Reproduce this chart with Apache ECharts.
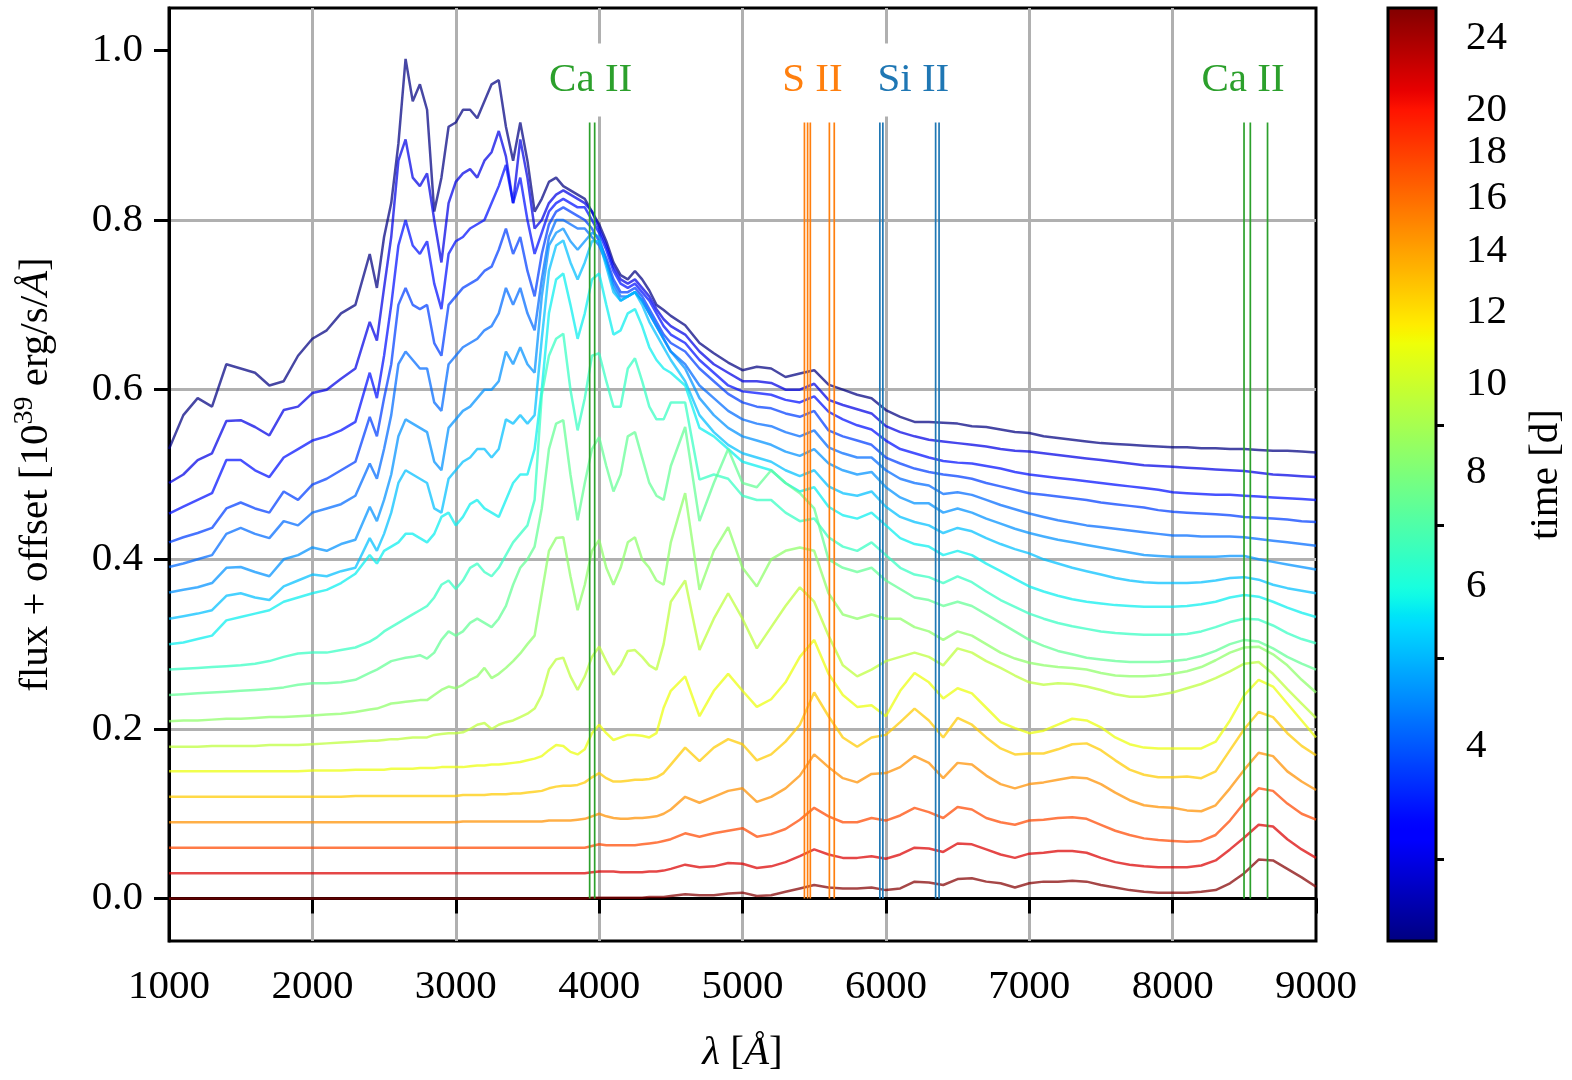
<!DOCTYPE html>
<html><head><meta charset="utf-8">
<script src="https://cdn.jsdelivr.net/npm/echarts@6/dist/echarts.min.js"></script>
<style>html,body{margin:0;padding:0;background:#fff}#chart{width:1572px;height:1080px}</style>
</head><body><div id="chart"></div>
<script>
// ---------------- DATA ----------------
const wavelength = [
1000,1100,1200,1300,1400,1500,1600,1700,1800,1900,2000,2100,2200,2300,2400,
2450,2500,2550,2600,2650,2700,2750,2800,2850,2900,
2950,3000,3050,3100,3150,3200,3250,3300,3350,3400,
3450,3500,3550,3600,3650,3700,3750,3800,3850,3900,
3950,4000,4050,4100,4150,4200,4250,4300,4350,4400,
4450,4500,
4600,4700,4800,4900,5000,5100,5200,5300,5400,5500,
5600,5700,5800,5900,6000,6100,6200,6300,6400,6500,
6600,6700,6800,6900,7000,7100,7200,7300,7400,7500,
7600,7700,7800,7900,8000,8100,8200,8300,8400,8500,
8600,8700,8800,8900,9000];

// epoch of each spectrum [d], earliest first
const times = [2.45,3.0,3.4,3.8,4.2,4.6,5.1,5.7,6.5,7.4,8.4,9.6,11.0,12.6,14.6,17.5,21.5,25.7];

// flux + offset values, one array per epoch
const spec01 = [
0.53,0.57,0.59,0.58,0.63,0.625,0.62,0.605,0.61,0.64,0.66,0.67,0.69,0.70,0.76,
0.72,0.78,0.82,0.89,0.99,0.94,0.96,0.93,0.81,0.85,
0.91,0.915,0.93,0.93,0.92,0.94,0.96,0.965,0.91,0.87,
0.915,0.87,0.81,0.825,0.845,0.85,0.84,0.835,0.83,0.825,
0.81,0.795,0.775,0.75,0.735,0.73,0.74,0.73,0.717,0.70,
0.694,0.687,
0.676,0.655,0.643,0.632,0.623,0.627,0.625,0.615,0.619,0.623,
0.606,0.60,0.594,0.59,0.576,0.568,0.562,0.562,0.561,0.56,
0.557,0.556,0.553,0.55,0.549,0.545,0.543,0.541,0.539,0.537,
0.536,0.535,0.534,0.533,0.532,0.532,0.531,0.531,0.53,0.53,
0.529,0.528,0.528,0.527,0.526];
const spec02 = [
0.49,0.50,0.517,0.525,0.563,0.564,0.556,0.546,0.576,0.58,0.596,0.60,0.613,0.625,0.68,
0.658,0.72,0.78,0.87,0.895,0.85,0.84,0.855,0.80,0.75,
0.82,0.845,0.855,0.86,0.85,0.87,0.88,0.905,0.875,0.82,
0.895,0.85,0.79,0.80,0.82,0.83,0.835,0.83,0.825,0.82,
0.81,0.79,0.77,0.745,0.73,0.725,0.73,0.72,0.71,0.695,
0.683,0.675,
0.665,0.645,0.63,0.62,0.61,0.61,0.608,0.60,0.60,0.607,
0.588,0.582,0.577,0.572,0.557,0.55,0.545,0.541,0.539,0.537,
0.535,0.533,0.53,0.528,0.527,0.525,0.523,0.521,0.519,0.517,
0.515,0.513,0.511,0.51,0.509,0.508,0.507,0.506,0.505,0.504,
0.502,0.50,0.499,0.498,0.497];
const spec03 = [
0.454,0.462,0.47,0.478,0.517,0.517,0.505,0.497,0.52,0.53,0.54,0.545,0.552,0.562,0.62,
0.59,0.64,0.70,0.77,0.80,0.77,0.76,0.775,0.725,0.695,
0.76,0.775,0.78,0.79,0.795,0.80,0.82,0.84,0.865,0.82,
0.85,0.80,0.76,0.785,0.81,0.82,0.825,0.82,0.815,0.815,
0.80,0.785,0.765,0.74,0.725,0.72,0.725,0.715,0.705,0.69,
0.675,0.665,
0.655,0.635,0.62,0.605,0.598,0.596,0.594,0.588,0.585,0.592,
0.574,0.565,0.558,0.553,0.54,0.53,0.525,0.52,0.516,0.514,
0.513,0.51,0.507,0.503,0.50,0.498,0.496,0.494,0.492,0.49,
0.488,0.486,0.484,0.482,0.479,0.478,0.477,0.476,0.476,0.475,
0.474,0.473,0.472,0.471,0.47];
const spec04 = [
0.42,0.426,0.431,0.437,0.46,0.467,0.46,0.455,0.48,0.47,0.488,0.495,0.505,0.515,0.568,
0.545,0.59,0.63,0.70,0.72,0.70,0.695,0.70,0.655,0.64,
0.70,0.71,0.72,0.725,0.73,0.74,0.745,0.765,0.79,0.76,
0.78,0.74,0.71,0.76,0.795,0.81,0.815,0.81,0.805,0.80,
0.79,0.775,0.755,0.73,0.715,0.715,0.72,0.71,0.695,0.68,
0.665,0.655,
0.645,0.625,0.61,0.595,0.585,0.58,0.578,0.572,0.568,0.575,
0.552,0.545,0.54,0.535,0.52,0.513,0.507,0.503,0.50,0.498,
0.495,0.49,0.486,0.482,0.478,0.476,0.474,0.472,0.47,0.467,
0.465,0.463,0.461,0.458,0.456,0.455,0.454,0.453,0.452,0.45,
0.449,0.448,0.447,0.445,0.444];
const spec05 = [
0.391,0.395,0.40,0.405,0.43,0.437,0.43,0.425,0.445,0.44,0.455,0.46,0.465,0.475,0.513,
0.495,0.53,0.57,0.63,0.645,0.635,0.625,0.625,0.585,0.575,
0.63,0.64,0.65,0.655,0.66,0.67,0.675,0.69,0.72,0.70,
0.72,0.69,0.67,0.73,0.78,0.80,0.80,0.795,0.79,0.79,
0.78,0.77,0.75,0.725,0.71,0.71,0.715,0.705,0.69,0.675,
0.66,0.645,
0.63,0.605,0.59,0.575,0.565,0.56,0.557,0.55,0.545,0.552,
0.532,0.525,0.52,0.52,0.505,0.495,0.49,0.487,0.477,0.479,
0.476,0.47,0.464,0.459,0.454,0.45,0.446,0.443,0.44,0.438,
0.436,0.434,0.432,0.43,0.428,0.428,0.427,0.427,0.427,0.426,
0.424,0.422,0.42,0.418,0.416];
const spec06 = [
0.361,0.364,0.367,0.372,0.39,0.391,0.385,0.38,0.40,0.405,0.414,0.41,0.418,0.423,0.462,
0.445,0.47,0.50,0.545,0.565,0.56,0.555,0.55,0.515,0.505,
0.555,0.565,0.575,0.58,0.59,0.60,0.60,0.61,0.645,0.63,
0.65,0.63,0.62,0.71,0.77,0.785,0.79,0.775,0.765,0.775,
0.785,0.78,0.75,0.72,0.705,0.71,0.715,0.705,0.69,0.675,
0.66,0.645,
0.625,0.59,0.57,0.555,0.545,0.54,0.535,0.527,0.522,0.53,
0.513,0.505,0.50,0.503,0.485,0.473,0.466,0.466,0.455,0.46,
0.455,0.448,0.442,0.436,0.431,0.427,0.423,0.42,0.417,0.414,
0.411,0.408,0.405,0.404,0.403,0.403,0.403,0.403,0.404,0.404,
0.40,0.397,0.394,0.391,0.388];
const spec07 = [
0.33,0.333,0.336,0.34,0.357,0.36,0.355,0.352,0.368,0.375,0.382,0.38,0.386,0.39,0.425,
0.41,0.43,0.455,0.49,0.505,0.50,0.495,0.49,0.46,0.455,
0.495,0.505,0.515,0.52,0.53,0.53,0.52,0.53,0.565,0.56,
0.57,0.56,0.57,0.66,0.74,0.77,0.776,0.75,0.73,0.75,
0.775,0.775,0.745,0.715,0.705,0.71,0.715,0.70,0.68,0.665,
0.65,0.635,
0.61,0.57,0.55,0.535,0.525,0.52,0.515,0.505,0.498,0.505,
0.486,0.478,0.475,0.48,0.462,0.45,0.444,0.44,0.431,0.437,
0.433,0.425,0.418,0.412,0.407,0.40,0.395,0.39,0.386,0.382,
0.378,0.375,0.373,0.372,0.372,0.372,0.373,0.375,0.378,0.379,
0.376,0.37,0.366,0.363,0.36];
const spec08 = [
0.30,0.302,0.306,0.31,0.328,0.332,0.336,0.34,0.35,0.355,0.36,0.364,0.372,0.383,0.405,
0.395,0.41,0.415,0.42,0.43,0.43,0.425,0.42,0.43,0.45,
0.455,0.44,0.45,0.465,0.47,0.46,0.455,0.45,0.47,0.49,
0.50,0.50,0.53,0.60,0.69,0.73,0.737,0.70,0.66,0.69,
0.73,0.737,0.70,0.665,0.67,0.69,0.695,0.675,0.65,0.635,
0.625,0.62,
0.605,0.555,0.545,0.53,0.515,0.51,0.505,0.49,0.48,0.485,
0.462,0.452,0.448,0.455,0.44,0.425,0.418,0.415,0.405,0.41,
0.405,0.395,0.386,0.377,0.368,0.362,0.357,0.353,0.35,0.348,
0.346,0.345,0.344,0.344,0.344,0.345,0.347,0.35,0.355,0.358,
0.356,0.35,0.343,0.337,0.332];
const spec09 = [
0.27,0.271,0.272,0.273,0.274,0.275,0.277,0.28,0.285,0.289,0.29,0.29,0.293,0.296,0.303,
0.308,0.315,0.32,0.325,0.33,0.335,0.34,0.345,0.355,0.37,
0.375,0.365,0.375,0.39,0.395,0.385,0.38,0.39,0.405,0.42,
0.43,0.44,0.47,0.594,0.64,0.66,0.666,0.60,0.552,0.59,
0.64,0.643,0.61,0.58,0.58,0.625,0.637,0.61,0.58,0.565,
0.565,0.585,
0.585,0.494,0.50,0.495,0.475,0.47,0.47,0.455,0.445,0.448,
0.426,0.415,0.41,0.42,0.405,0.39,0.382,0.379,0.372,0.38,
0.373,0.362,0.352,0.344,0.336,0.33,0.325,0.321,0.318,0.315,
0.313,0.312,0.311,0.311,0.311,0.312,0.315,0.32,0.326,0.33,
0.329,0.322,0.313,0.306,0.301];
const spec10 = [
0.24,0.241,0.242,0.243,0.244,0.245,0.246,0.247,0.249,0.252,0.254,0.254,0.255,0.258,0.266,
0.27,0.275,0.28,0.282,0.284,0.285,0.287,0.283,0.29,0.305,
0.315,0.31,0.315,0.325,0.33,0.325,0.32,0.33,0.345,0.37,
0.39,0.40,0.415,0.46,0.53,0.56,0.564,0.50,0.446,0.49,
0.53,0.544,0.51,0.48,0.50,0.545,0.55,0.52,0.49,0.475,
0.47,0.51,
0.556,0.445,0.49,0.53,0.49,0.485,0.505,0.49,0.478,0.46,
0.40,0.39,0.385,0.39,0.375,0.365,0.355,0.352,0.345,0.35,
0.345,0.335,0.325,0.315,0.305,0.298,0.292,0.288,0.284,0.282,
0.28,0.279,0.279,0.279,0.28,0.282,0.286,0.292,0.30,0.305,
0.303,0.295,0.285,0.277,0.27];
const spec11 = [
0.209,0.21,0.21,0.211,0.212,0.212,0.213,0.214,0.214,0.215,0.216,0.217,0.218,0.22,0.223,
0.224,0.227,0.23,0.231,0.232,0.233,0.234,0.234,0.24,0.246,
0.25,0.248,0.252,0.258,0.262,0.272,0.26,0.265,0.272,0.28,
0.289,0.30,0.31,0.36,0.41,0.425,0.426,0.38,0.34,0.37,
0.41,0.423,0.39,0.37,0.39,0.42,0.426,0.40,0.39,0.375,
0.37,0.42,
0.478,0.364,0.41,0.438,0.39,0.368,0.40,0.41,0.414,0.41,
0.36,0.335,0.33,0.335,0.33,0.33,0.32,0.315,0.305,0.315,
0.31,0.30,0.29,0.283,0.278,0.275,0.273,0.272,0.27,0.266,
0.263,0.262,0.262,0.263,0.265,0.268,0.273,0.281,0.29,0.296,
0.297,0.288,0.275,0.258,0.243];
const spec12 = [
0.179,0.179,0.179,0.18,0.18,0.18,0.18,0.181,0.181,0.181,0.182,0.183,0.184,0.185,0.186,
0.186,0.187,0.188,0.188,0.189,0.19,0.19,0.19,0.193,0.194,
0.195,0.195,0.196,0.20,0.205,0.207,0.20,0.205,0.208,0.21,
0.214,0.218,0.224,0.24,0.27,0.282,0.284,0.262,0.246,0.262,
0.285,0.297,0.28,0.264,0.275,0.292,0.293,0.285,0.275,0.27,
0.30,0.35,
0.375,0.293,0.33,0.36,0.33,0.295,0.32,0.345,0.367,0.35,
0.31,0.275,0.262,0.27,0.28,0.285,0.29,0.285,0.275,0.295,
0.29,0.28,0.272,0.263,0.255,0.252,0.254,0.253,0.25,0.246,
0.241,0.238,0.238,0.24,0.243,0.248,0.253,0.26,0.268,0.277,
0.279,0.265,0.247,0.23,0.213];
const spec13 = [
0.15,0.15,0.15,0.15,0.15,0.15,0.15,0.15,0.15,0.15,0.151,0.151,0.151,0.152,0.152,
0.152,0.152,0.153,0.153,0.153,0.153,0.154,0.154,0.154,0.155,
0.155,0.155,0.155,0.156,0.157,0.157,0.158,0.158,0.159,0.16,
0.161,0.163,0.165,0.168,0.175,0.181,0.18,0.173,0.17,0.176,
0.195,0.205,0.195,0.187,0.19,0.193,0.193,0.192,0.19,0.195,
0.225,0.245,
0.262,0.215,0.245,0.265,0.245,0.226,0.235,0.255,0.285,0.305,
0.265,0.24,0.226,0.228,0.215,0.245,0.266,0.255,0.236,0.248,
0.242,0.225,0.208,0.201,0.195,0.198,0.205,0.212,0.21,0.202,
0.19,0.182,0.178,0.177,0.177,0.177,0.177,0.185,0.21,0.24,
0.258,0.25,0.23,0.21,0.19];
const spec14 = [
0.12,0.12,0.12,0.12,0.12,0.12,0.12,0.12,0.12,0.12,0.12,0.12,0.12,0.121,0.121,
0.121,0.121,0.121,0.121,0.121,0.121,0.121,0.121,0.121,0.121,
0.121,0.121,0.122,0.122,0.122,0.122,0.123,0.123,0.123,0.124,
0.124,0.125,0.126,0.127,0.13,0.132,0.133,0.133,0.134,0.137,
0.143,0.148,0.142,0.138,0.138,0.139,0.14,0.14,0.141,0.143,
0.148,0.158,
0.178,0.162,0.178,0.188,0.182,0.163,0.17,0.185,0.205,0.243,
0.215,0.19,0.179,0.19,0.193,0.208,0.224,0.21,0.19,0.213,
0.205,0.19,0.177,0.17,0.171,0.171,0.176,0.182,0.183,0.175,
0.163,0.152,0.146,0.143,0.143,0.144,0.142,0.15,0.175,0.2,
0.22,0.214,0.195,0.18,0.169];
const spec15 = [
0.09,0.09,0.09,0.09,0.09,0.09,0.09,0.09,0.09,0.09,0.09,0.09,0.09,0.09,0.09,
0.09,0.09,0.09,0.09,0.09,0.09,0.09,0.09,0.09,0.09,
0.09,0.09,0.091,0.091,0.091,0.091,0.091,0.091,0.091,0.091,
0.091,0.091,0.091,0.091,0.092,0.092,0.092,0.092,0.093,0.094,
0.097,0.10,0.097,0.095,0.094,0.094,0.095,0.095,0.096,0.097,
0.10,0.105,
0.12,0.113,0.12,0.127,0.13,0.114,0.12,0.13,0.145,0.17,
0.155,0.142,0.137,0.147,0.148,0.155,0.168,0.16,0.142,0.16,
0.158,0.145,0.135,0.13,0.135,0.137,0.14,0.143,0.142,0.135,
0.125,0.116,0.11,0.108,0.107,0.104,0.103,0.11,0.13,0.152,
0.172,0.168,0.15,0.138,0.128];
const spec16 = [
0.06,0.06,0.06,0.06,0.06,0.06,0.06,0.06,0.06,0.06,0.06,0.06,0.06,0.06,0.06,
0.06,0.06,0.06,0.06,0.06,0.06,0.06,0.06,0.06,0.06,
0.06,0.06,0.06,0.06,0.06,0.06,0.06,0.06,0.06,0.06,
0.06,0.06,0.06,0.06,0.06,0.06,0.06,0.06,0.06,0.06,
0.062,0.064,0.063,0.063,0.063,0.063,0.063,0.064,0.065,0.066,
0.068,0.07,
0.077,0.073,0.077,0.08,0.083,0.073,0.076,0.082,0.093,0.107,
0.097,0.09,0.09,0.095,0.092,0.098,0.107,0.102,0.095,0.108,
0.105,0.095,0.09,0.087,0.092,0.093,0.095,0.096,0.094,0.087,
0.08,0.075,0.071,0.069,0.068,0.067,0.068,0.075,0.092,0.113,
0.13,0.127,0.112,0.10,0.093];
const spec17 = [
0.03,0.03,0.03,0.03,0.03,0.03,0.03,0.03,0.03,0.03,0.03,0.03,0.03,0.03,0.03,
0.03,0.03,0.03,0.03,0.03,0.03,0.03,0.03,0.03,0.03,
0.03,0.03,0.03,0.03,0.03,0.03,0.03,0.03,0.03,0.03,
0.03,0.03,0.03,0.03,0.03,0.03,0.03,0.03,0.03,0.03,
0.031,0.032,0.032,0.032,0.031,0.031,0.031,0.031,0.032,0.032,
0.033,0.035,
0.04,0.037,0.038,0.042,0.041,0.036,0.038,0.043,0.05,0.058,
0.052,0.048,0.048,0.05,0.047,0.052,0.06,0.059,0.055,0.065,
0.064,0.058,0.052,0.048,0.053,0.054,0.056,0.056,0.054,0.048,
0.043,0.04,0.038,0.037,0.037,0.037,0.039,0.045,0.058,0.072,
0.087,0.085,0.07,0.058,0.048];
const spec18 = [
0,0,0,0,0,0,0,0,0,0,0,0,0,0,0,
0,0,0,0,0,0,0,0,0,0,
0,0,0,0,0,0,0,0,0,0,
0,0,0,0,0,0,0,0,0,0,
0.001,0.001,0.001,0.001,0.001,0.001,0.001,0.001,0.002,0.002,
0.002,0.003,
0.005,0.004,0.004,0.006,0.007,0.003,0.004,0.008,0.012,0.016,
0.013,0.012,0.012,0.013,0.01,0.012,0.02,0.019,0.016,0.023,
0.024,0.02,0.018,0.013,0.018,0.02,0.02,0.021,0.02,0.016,
0.013,0.01,0.008,0.007,0.007,0.007,0.008,0.01,0.018,0.03,
0.046,0.045,0.035,0.025,0.014];
const spectra = [spec01,spec02,spec03,spec04,spec05,spec06,spec07,spec08,spec09,
                 spec10,spec11,spec12,spec13,spec14,spec15,spec16,spec17,spec18];

// ion line rest wavelengths [Å]
const caHK = [3934, 3969];
const sII  = [5432, 5454, 5473, 5606, 5640];
const siII = [5958, 5979, 6347, 6371];
const caIR = [8498, 8542, 8662];
const ionLabels = ['Ca II', 'S II', 'Si II', 'Ca II'];
const ionLabelWl = [3941, 5488, 6192, 8491];

// ticks
const yTicks = [0.0, 0.2, 0.4, 0.6, 0.8, 1.0];
const cbMajorTicks = [4, 6, 8, 10, 12, 14, 16, 18, 20, 22, 24];
const cbLabelTicks = [4, 6, 8, 10, 12, 14, 16, 18, 20, 24];
const cbMinorTicks = [3, 5, 7, 9];
const timeRange = [2.442, 25.9];

// ---------------- STYLE / HELPERS ----------------
const FONT = "'Liberation Serif','Times New Roman',serif";
const FS = 41;
const C_GREEN = '#2ca02c', C_ORANGE = '#ff7f0e', C_BLUE = '#1f77b4';
const L0 = Math.log10(timeRange[0]), L1 = Math.log10(timeRange[1]);

function interp(pts, x) {
  for (let i = 0; i < pts.length - 1; i++) {
    const [x0, y0] = pts[i], [x1, y1] = pts[i + 1];
    if (x <= x1) return y0 + (y1 - y0) * (x - x0) / (x1 - x0);
  }
  return pts[pts.length - 1][1];
}
function jet(p) {
  p = Math.max(0, Math.min(1, p));
  const r = interp([[0,0],[0.35,0],[0.66,1],[0.89,1],[1,0.5]], p);
  const g = interp([[0,0],[0.125,0],[0.375,1],[0.64,1],[0.91,0],[1,0]], p);
  const b = interp([[0,0.5],[0.11,1],[0.34,1],[0.65,0],[1,0]], p);
  return 'rgb(' + Math.round(r*255) + ',' + Math.round(g*255) + ',' + Math.round(b*255) + ')';
}
function timeToP(t) { return (Math.log10(t) - L0) / (L1 - L0); }

const series = [];
spectra.forEach((arr, i) => {
  series.push({
    type: 'line', xAxisIndex: 0, yAxisIndex: 0,
    data: wavelength.map((w, j) => [w, arr[j]]),
    symbol: 'none', showSymbol: false, silent: true, animation: false,
    lineStyle: { width: 2.5, color: jet(timeToP(times[i])), opacity: 0.72 },
    z: 2
  });
});

function ionLines(list, color) {
  list.forEach(w => {
    series.push({
      type: 'line', xAxisIndex: 0, yAxisIndex: 0,
      data: [[w, 0], [w, 0.915]],
      symbol: 'none', silent: true, animation: false,
      lineStyle: { width: 1.7, color: color, opacity: 1 }, z: 3
    });
  });
}
ionLines(caHK, C_GREEN);
ionLines(sII, C_ORANGE);
ionLines(siII, C_BLUE);
ionLines(caIR, C_GREEN);

const labelColors = [C_GREEN, C_ORANGE, C_BLUE, C_GREEN];
series.push({
  type: 'scatter', xAxisIndex: 0, yAxisIndex: 0, silent: true, animation: false,
  symbol: 'circle', symbolSize: 2, itemStyle: { color: 'rgba(255,255,255,0)' }, z: 4,
  data: ionLabels.map((t, i) => ({
    value: [ionLabelWl[i], 0.965],
    label: {
      show: true, position: 'inside', formatter: t,
      fontSize: FS, fontFamily: FONT, color: labelColors[i],
      textBorderWidth: 0, textBorderColor: 'transparent', textShadowBlur: 0,
      opacity: 1,
      backgroundColor: '#ffffff', padding: [16, 19]
    }
  }))
});

// colorbar gradient
const cbStops = [];
for (let k = 0; k <= 100; k++) cbStops.push({ offset: k / 100, color: jet(k / 100) });
series.push({
  type: 'custom', xAxisIndex: 1, yAxisIndex: 1, silent: true, animation: false,
  data: [[0.5, (L0 + L1) / 2]], z: 2,
  renderItem: (params, api) => {
    const a = api.coord([0, L1]);
    const b = api.coord([1, L0]);
    return {
      type: 'rect',
      shape: { x: a[0], y: a[1], width: b[0] - a[0], height: b[1] - a[1] },
      style: {
        fill: { type: 'linear', x: 0, y: 1, x2: 0, y2: 0, colorStops: cbStops },
        stroke: '#000', lineWidth: 3
      }
    };
  }
});

const blackLine = { show: true, lineStyle: { color: '#000', width: 3 } };
const option = {
  backgroundColor: '#ffffff',
  animation: false,
  grid: [
    { left: 169, right: 256, top: 8, bottom: 139, show: true, borderColor: '#000', borderWidth: 3, backgroundColor: 'transparent' },
    { left: 1388, width: 48, top: 8, bottom: 139 }
  ],
  xAxis: [
    {
      gridIndex: 0, type: 'value', min: 1000, max: 9000, interval: 1000,
      axisLine: blackLine,
      axisTick: { show: true, inside: false, length: 15, lineStyle: { color: '#000', width: 3 } },
      axisLabel: { fontSize: FS, fontFamily: FONT, color: '#000', margin: 26, formatter: v => String(v) },
      splitLine: { show: true, showMinLine: false, showMaxLine: false, lineStyle: { color: '#b0b0b0', width: 3 } },
      name: '{it|λ} [{it|Å}]', nameLocation: 'middle', nameGap: 92,
      nameTextStyle: { fontSize: FS, fontFamily: FONT, color: '#000',
        rich: { it: { fontStyle: 'italic', fontSize: FS, fontFamily: FONT, color: '#000' } } }
    },
    { gridIndex: 1, type: 'value', min: 0, max: 1, show: false }
  ],
  yAxis: [
    {
      gridIndex: 0, type: 'value', min: -0.05, max: 1.05,
      axisLine: blackLine,
      axisTick: { show: true, inside: false, length: 15, lineStyle: { color: '#000', width: 3 }, customValues: yTicks },
      axisLabel: { fontSize: FS, fontFamily: FONT, color: '#000', margin: 26, customValues: yTicks,
        formatter: v => Number(v).toFixed(1) },
      splitLine: { show: true, showMinLine: false, showMaxLine: false, lineStyle: { color: '#b0b0b0', width: 3 } },
      name: 'flux + offset [10{sup|39} erg/s/{it|Å}]', nameLocation: 'middle', nameGap: 108, nameRotate: 90,
      nameTextStyle: { fontSize: FS, fontFamily: FONT, color: '#000', lineHeight: 50,
        rich: {
          sup: { fontSize: 28, fontFamily: FONT, color: '#000', verticalAlign: 'top', lineHeight: 30 },
          it: { fontStyle: 'italic', fontSize: FS, fontFamily: FONT, color: '#000' }
        } }
    },
    {
      gridIndex: 1, type: 'value', min: L0, max: L1, position: 'right',
      axisLine: { show: false },
      axisTick: { show: true, inside: false, length: 13, lineStyle: { color: '#000', width: 3 },
        customValues: cbMajorTicks.map(v => Math.log10(v)) },
      axisLabel: { show: true, fontSize: FS, fontFamily: FONT, color: '#000', margin: 30,
        customValues: cbLabelTicks.map(v => Math.log10(v)),
        formatter: v => String(Math.round(Math.pow(10, v))) },
      splitLine: { show: false },
      name: 'time [d]', nameLocation: 'middle', nameGap: 90, nameRotate: 90,
      nameTextStyle: { fontSize: FS, fontFamily: FONT, color: '#000' }
    },
    {
      gridIndex: 1, type: 'value', min: L0, max: L1, position: 'right',
      axisLine: { show: false },
      axisTick: { show: true, inside: false, length: 8, lineStyle: { color: '#000', width: 3 },
        customValues: cbMinorTicks.map(v => Math.log10(v)) },
      axisLabel: { show: false },
      splitLine: { show: false }
    }
  ],
  series: series
};

const chart = echarts.init(document.getElementById('chart'), null, { renderer: 'canvas' });
chart.setOption(option);
</script>
</body></html>
